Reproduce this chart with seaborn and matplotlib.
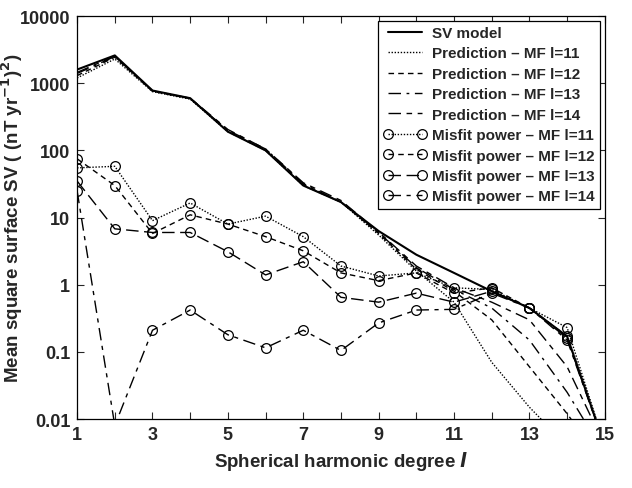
import numpy as np
import pandas as pd
import matplotlib
matplotlib.use("Agg")
import matplotlib.pyplot as plt
import seaborn as sns
from matplotlib.ticker import FixedLocator, NullLocator

degrees = list(range(1, 16))

sv_model = [1600, 2600, 780, 600, 190, 100, 30, 17, 6.3, 2.8, 1.5, 0.8, 0.45, 0.17, 0.004]

pred_11 = [1200, 2300, 750, 580, 190, 100, 30, 17, 5.5, 1.6, 0.55, 0.07, 0.015, 0.004, 0.001]
pred_12 = [1300, 2450, 760, 590, 195, 100, 31, 17, 5.8, 1.7, 0.8, 0.3, 0.06, 0.012, 0.002]
pred_13 = [1400, 2500, 770, 590, 200, 105, 32, 17, 6.0, 1.8, 0.85, 0.45, 0.15, 0.025, 0.003]
pred_14 = [1450, 2550, 770, 600, 205, 105, 33, 18, 6.1, 1.9, 0.9, 0.55, 0.3, 0.06, 0.004]

misfit_11 = [55, 58, 9, 16.5, 8, 10.5, 5.2, 1.9, 1.35, 1.5, 0.9, 0.85, 0.45, 0.23, 0.004]
misfit_12 = [75, 30, 5.8, 11, 8, 5.2, 3.2, 1.5, 1.15, 1.5, 0.75, 0.9, 0.45, 0.17, 0.004]
misfit_13 = [35, 6.8, 6, 6, 3.1, 1.4, 2.2, 0.65, 0.55, 0.75, 0.55, 0.8, 0.45, 0.16, 0.004]
misfit_14 = [25, 0.008, 0.21, 0.42, 0.18, 0.115, 0.21, 0.105, 0.27, 0.42, 0.43, 0.75, 0.45, 0.15, 0.004]

x_ticks = [1, 3, 5, 7, 9, 11, 13, 15]
y_ticks = [0.01, 0.1, 1, 10, 100, 1000, 10000]
y_tick_labels = ["0.01", "0.1", "1", "10", "100", "1000", "10000"]

sns.set_style("ticks")
plt.rcParams['font.family'] = ['Liberation Sans', 'DejaVu Sans']
plt.rcParams['font.weight'] = 'bold'
plt.rcParams['mathtext.default'] = 'bf'

fig = plt.figure(figsize=(6.32, 4.89), dpi=100)
ax = fig.add_axes([0.122, 0.141, 0.835, 0.824])

series = [
    ("SV model", sv_model, '-', None, 1.5),
    ("Prediction \u2013 MF l=11", pred_11, (0, (1, 1.2)), None, 1.0),
    ("Prediction \u2013 MF l=12", pred_12, (0, (4, 3)), None, 1.0),
    ("Prediction \u2013 MF l=13", pred_13, (0, (9, 4, 2, 4)), None, 1.0),
    ("Prediction \u2013 MF l=14", pred_14, (0, (9, 4, 4, 4)), None, 1.0),
    ("Misfit power \u2013 MF l=11", misfit_11, (0, (1, 1.2)), 'o', 1.0),
    ("Misfit power \u2013 MF l=12", misfit_12, (0, (4, 3)), 'o', 1.0),
    ("Misfit power \u2013 MF l=13", misfit_13, (0, (9, 4)), 'o', 1.0),
    ("Misfit power \u2013 MF l=14", misfit_14, (0, (9, 4, 3, 4)), 'o', 1.0),
]

for label, vals, ls, mk, lw in series:
    df = pd.DataFrame({"degree": degrees, "power": vals})
    kw = dict(color='black', linewidth=lw, linestyle=ls)
    if mk:
        kw.update(marker='o', markersize=7, markerfacecolor='none',
                  markeredgecolor='black', markeredgewidth=0.9)
    sns.lineplot(data=df, x="degree", y="power", ax=ax, label=label, **kw)

ax.set_yscale('log')
ax.set_xlim(1, 15)
ax.set_ylim(0.01, 10000)
ax.xaxis.set_major_locator(FixedLocator(x_ticks))
ax.xaxis.set_minor_locator(FixedLocator([2, 4, 6, 8, 10, 12, 14]))
ax.yaxis.set_major_locator(FixedLocator(y_ticks))
ax.yaxis.set_minor_locator(NullLocator())
ax.set_yticklabels(y_tick_labels)
ax.tick_params(axis='both', which='both', direction='in', top=True, right=True,
               length=5, width=0.8, labelsize=13, pad=5)
for lab in ax.get_xticklabels() + ax.get_yticklabels():
    lab.set_fontweight('bold')
for sp in ax.spines.values():
    sp.set_visible(True)
    sp.set_linewidth(0.9)
    sp.set_color('black')

ax.set_xlabel("Spherical harmonic degree $\\mathit{l}$", fontsize=13.5, fontweight='bold', labelpad=4)
ax.set_ylabel("Mean square surface SV ( (nT yr$^{-1}$)$^{2}$)", fontsize=13.5, fontweight='bold')
ax.yaxis.set_label_coords(-0.098, 0.5)

leg = ax.legend(loc='upper right', fontsize=11, frameon=True, fancybox=False,
                edgecolor='black', framealpha=1, handlelength=2.8, labelspacing=0.42,
                borderpad=0.35, handletextpad=0.4, borderaxespad=0.3, numpoints=2)
leg.get_frame().set_linewidth(0.9)
for t in leg.get_texts():
    t.set_fontweight('bold')

fig.savefig("out.png", dpi=100)
